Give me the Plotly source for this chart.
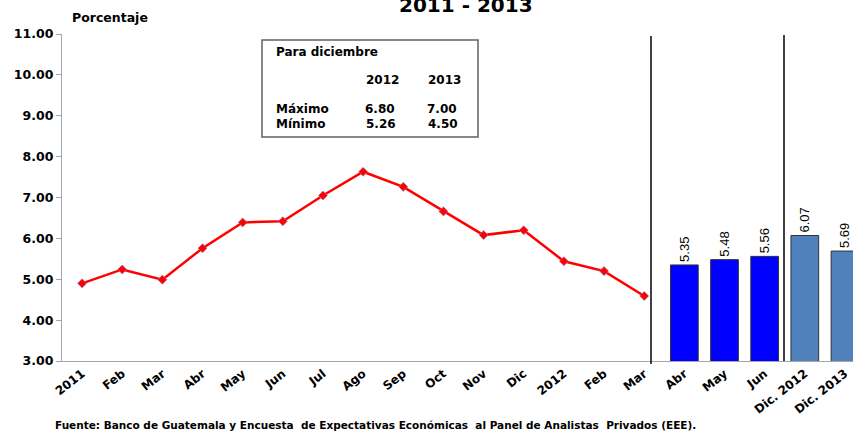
import plotly.graph_objects as go

# ---- data ----
tick_labels = ["2011", "Feb", "Mar", "Abr", "May", "Jun", "Jul", "Ago", "Sep", "Oct",
               "Nov", "Dic", "2012", "Feb", "Mar", "Abr", "May", "Jun", "Dic. 2012", "Dic. 2013"]
observed_values = [4.90, 5.24, 4.99, 5.76, 6.39, 6.42, 7.05, 7.63, 7.26, 6.66,
                   6.08, 6.20, 5.44, 5.20, 4.59]
expected_values = [5.35, 5.48, 5.56, 6.07, 5.69]
expected_colors = ["#0000FF", "#0000FF", "#0000FF", "#4F81BD", "#4F81BD"]
box_years = ["2012", "2013"]
box_max = ["6.80", "7.00"]
box_min = ["5.26", "4.50"]

W, H = 853, 431
L, T, R, B = 62, 34, 853, 361
FONT = "DejaVu Sans, Arial, sans-serif"
ARIAL = "Liberation Sans, Arial, sans-serif"
X_MAX = 19.2


def px(x):
    return (x - L) / (R - L)


def py(y):
    return (B - y) / (B - T)


n_obs = len(observed_values)
x_obs = list(range(n_obs))
x_exp = list(range(n_obs, n_obs + len(expected_values)))

fig = go.Figure()
fig.add_trace(go.Scatter(
    x=x_obs, y=observed_values, mode="lines+markers",
    line=dict(color="#FF0000", width=2.5),
    marker=dict(symbol="diamond", size=7, color="#FF0000",
                line=dict(color="#8A8AC8", width=0.6)),
    showlegend=False, hoverinfo="skip"))
fig.add_trace(go.Bar(
    x=x_exp, y=expected_values, width=0.69,
    marker=dict(color=expected_colors, line=dict(color="#333333", width=1)),
    text=[f"{v:.2f}" for v in expected_values], textposition="outside",
    textangle=-90, textfont=dict(family=ARIAL, size=13, color="black"),
    cliponaxis=False, showlegend=False, hoverinfo="skip"))

annotations = [
    dict(text="2011 - 2013", x=px(466), y=py(5), xref="paper", yref="paper",
         xanchor="center", yanchor="middle", showarrow=False,
         font=dict(family=FONT, size=20, color="black", weight="bold")),
    dict(text="Porcentaje", x=px(70), y=py(17), xref="paper", yref="paper",
         xanchor="left", yanchor="middle", showarrow=False,
         font=dict(family=FONT, size=12.5, color="black", weight="bold")),
    dict(text="Fuente: Banco de Guatemala y Encuesta  de Expectativas Económicas  al Panel de Analistas  Privados (EEE).",
         x=px(53), y=py(425), xref="paper", yref="paper",
         xanchor="left", yanchor="middle", showarrow=False,
         font=dict(family=FONT, size=10.5, color="black", weight="bold")),
]
box_font = dict(family=FONT, size=12, color="black", weight="bold")
annotations.append(dict(text="Para diciembre", x=px(274), y=py(52), xref="paper", yref="paper",
                        xanchor="left", yanchor="middle", showarrow=False, font=box_font))
annotations.append(dict(text="Máximo", x=px(274), y=py(109), xref="paper", yref="paper",
                        xanchor="left", yanchor="middle", showarrow=False, font=box_font))
annotations.append(dict(text="Mínimo", x=px(274), y=py(124), xref="paper", yref="paper",
                        xanchor="left", yanchor="middle", showarrow=False, font=box_font))
for cx, yr, mx, mn in zip([382, 444], box_years, box_max, box_min):
    annotations.append(dict(text=yr, x=px(cx), y=py(80), xref="paper", yref="paper",
                            xanchor="center", yanchor="middle", showarrow=False, font=box_font))
    annotations.append(dict(text=mx, x=px(cx - 2), y=py(109), xref="paper", yref="paper",
                            xanchor="center", yanchor="middle", showarrow=False, font=box_font))
    annotations.append(dict(text=mn, x=px(cx - 1), y=py(124), xref="paper", yref="paper",
                            xanchor="center", yanchor="middle", showarrow=False, font=box_font))

shapes = [
    dict(type="rect", xref="paper", yref="paper", x0=px(262), x1=px(478), y0=py(137), y1=py(40),
         line=dict(color="#606060", width=1.5), fillcolor="rgba(0,0,0,0)"),
    dict(type="line", xref="paper", yref="paper", x0=px(651), x1=px(651), y0=py(364), y1=py(36),
         line=dict(color="#111111", width=1.6)),
    dict(type="line", xref="paper", yref="paper", x0=px(784), x1=px(784), y0=0, y1=py(35),
         line=dict(color="#111111", width=1.6)),
]

fig.update_layout(
    width=W, height=H,
    margin=dict(l=L, r=W - R, t=T, b=H - B, pad=0, autoexpand=False),
    paper_bgcolor="white", plot_bgcolor="white",
    annotations=annotations, shapes=shapes,
    xaxis=dict(
        range=[-0.5, X_MAX], automargin=False,
        tickmode="array", tickvals=list(range(len(tick_labels))), ticktext=tick_labels,
        tickangle=-38, ticks="", showgrid=False, zeroline=False,
        showline=True, linecolor="#A6A6A6", linewidth=1.2,
        tickfont=dict(family=FONT, size=12, color="black", weight="bold"),
    ),
    yaxis=dict(
        range=[3, 11], dtick=1, tick0=3, tickformat=".2f", automargin=False,
        ticks="outside", ticklen=5, tickcolor="#A6A6A6", tickwidth=1,
        showgrid=False, zeroline=False,
        showline=True, linecolor="#A6A6A6", linewidth=1.2,
        tickfont=dict(family=FONT, size=12.5, color="black", weight="bold"),
    ),
)

fig.write_html("out.html", config={"displayModeBar": False},
               post_script="document.body.style.margin='0';document.body.style.overflow='hidden';")
